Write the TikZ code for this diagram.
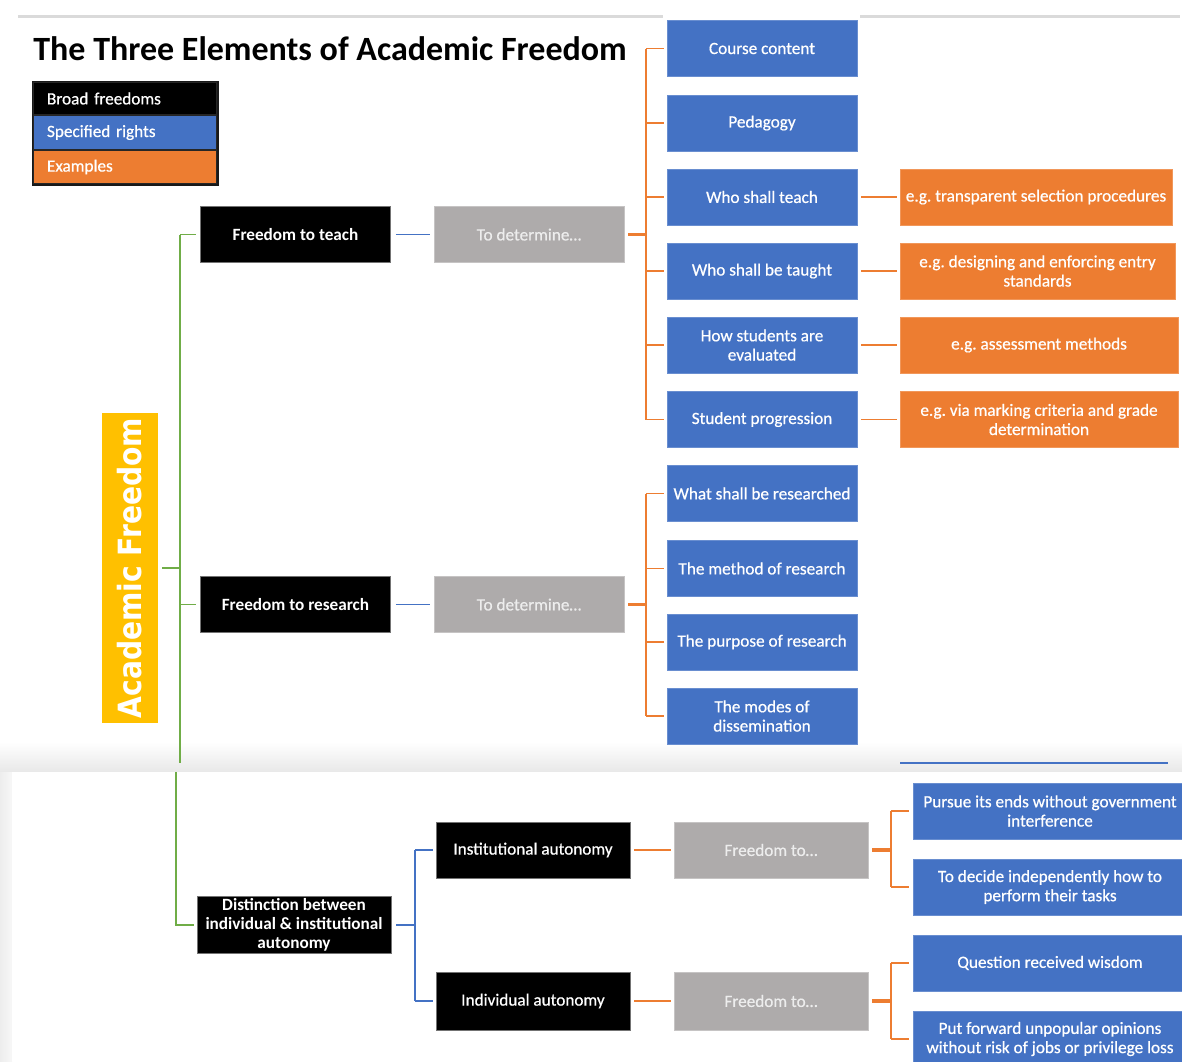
\documentclass[tikz,border=0pt]{standalone}
\usepackage{fontspec}
\setmainfont{Carlito}
\newfontfamily\semibody{Carlito}[FakeBold=0.6]
\newfontfamily\widebold{DejaVu Sans}
\definecolor{afblack}{HTML}{000000}
\definecolor{afblue}{HTML}{4472C4}
\definecolor{aforange}{HTML}{ED7D31}
\definecolor{afgrey}{HTML}{AEABAB}
\definecolor{afyellow}{HTML}{FFC000}
\definecolor{afgreen}{HTML}{70AD47}
\definecolor{rulegrey}{HTML}{DADADA}
\begin{document}
\frenchspacing
\begin{tikzpicture}[x=0.5pt,y=-0.5pt,
  txt/.style={font=\semibody\fontsize{8.6pt}{9.6pt}\selectfont},
  base/.style={rectangle, inner sep=0pt, align=center, text=white, txt},
  broad/.style={base, fill=afblack, draw=black!55, line width=0.3pt,
                minimum width=95pt, minimum height=28pt,
                font=\normalfont\fontsize{8.6pt}{9.6pt}\selectfont\bfseries},
  auto/.style={base, fill=afblack, draw=black!55, line width=0.3pt,
                minimum width=97pt, minimum height=28pt},
  detbox/.style={base, fill=afgrey, draw=afgrey!70!white, line width=0.3pt,
                 text=white!93!black, minimum width=95pt, minimum height=28pt},
  right/.style={base, fill=afblue, draw=afblue!80!white, line width=0.3pt,
                minimum width=95pt, minimum height=28pt},
  wideright/.style={right, minimum width=137pt},
  example/.style={base, fill=aforange, draw=aforange!80!white, line width=0.3pt,
                  minimum height=28pt},
  legbox/.style={rectangle, inner ysep=0pt, inner xsep=7pt, text width=78pt,
                 align=left, text=white, draw=black!85, line width=0.6pt, txt},
  gline/.style={draw=afgreen, line width=0.9pt},
  bline/.style={draw=afblue, line width=0.9pt},
  oline/.style={draw=aforange, line width=0.9pt},
  ostem/.style={draw=aforange, line width=1.6pt},
]
\useasboundingbox (0,0) rectangle (1182,1061);
\clip (0,0) rectangle (1182,1061);

% ---------- backgrounds ----------
\fill[white] (0,0) rectangle (1182,1061);
\shade[top color=white, bottom color=black!9] (0,742) rectangle (1182,772);
\shade[left color=black!7, right color=black!3] (0,772) rectangle (12,1061);
\fill[white] (12,772) rectangle (1182,1061);
\draw[rulegrey, line width=1.5pt] (18,16.5) -- (663,16.5);
\draw[rulegrey, line width=1.5pt] (860,16.5) -- (1180,16.5);
\draw[afblue, line width=1pt] (900,763) -- (1168,763);

% ---------- title and legend ----------
\node[anchor=base west, inner sep=0pt,
      font=\fontsize{17pt}{20pt}\selectfont\bfseries] (title) at (33,60)
      {The Three Elements of Academic Freedom};
\node[legbox, fill=afblack, minimum height=16.5pt] (lg1) at (125,98.5) {Broad freedoms};
\node[legbox, fill=afblue, minimum height=17.5pt] (lg2) at (125,132.5) {Specified rights};
\node[legbox, fill=aforange, minimum height=17pt] (lg3) at (125,167) {Examples};
\draw[black!90, line width=0.9pt] (lg1.north west) rectangle (lg3.south east);

% ---------- root ----------
\node[rectangle, fill=afyellow, rotate=90, inner sep=0pt,
      minimum width=155pt, minimum height=28pt, text=white,
      font=\widebold\bfseries\fontsize{16pt}{18pt}\selectfont] (af) at (130,568)
      {\scalebox{0.88}[1]{Academic Freedom}};

% ---------- freedom to teach ----------
\node[broad] (ft) at (295.5,234.5) {Freedom to teach};
\node[detbox] (td) at (529,234.5) {To determine…};
\node[right] (c1) at (762,48.5) {Course content};
\node[right] (c2) at (762,123) {Pedagogy};
\node[right] (c3) at (762,197) {Who shall teach};
\node[right] (c4) at (762,271) {Who shall be taught};
\node[right] (c5) at (762,345) {How students are\\evaluated};
\node[right] (c6) at (762,419.5) {Student progression};
\node[example, minimum width=136pt] (e3) at (1036,197) {e.g. transparent selection procedures};
\node[example, minimum width=137.5pt] (e4) at (1037.5,271) {e.g. designing and enforcing entry\\standards};
\node[example, minimum width=139pt] (e5) at (1039,345) {e.g. assessment methods};
\node[example, minimum width=139pt] (e6) at (1039,419.5) {e.g. via marking criteria and grade\\determination};

% ---------- freedom to research ----------
\node[broad] (fr) at (295.5,604.5) {Freedom to research};
\node[detbox] (tr) at (529,604.5) {To determine…};
\node[right] (r1) at (762,493.5) {What shall be researched};
\node[right] (r2) at (762,568.5) {The method of research};
\node[right] (r3) at (762,642) {The purpose of research};
\node[right] (r4) at (762,716) {The modes of\\dissemination};

% ---------- autonomy ----------
\node[broad, minimum width=97pt, minimum height=28.5pt] (dist) at (294,925)
      {Distinction between\\individual \& institutional\\autonomy};
\node[auto] (ia) at (533,850) {Institutional autonomy};
\node[auto, minimum height=29pt] (ind) at (533,1001) {Individual autonomy};
\node[detbox, minimum width=97pt] (fa) at (771,850) {Freedom to…};
\node[detbox, minimum width=97pt, minimum height=29pt] (fb) at (771,1001) {Freedom to…};
\node[wideright] (p1) at (1050,811) {Pursue its ends without government\\interference};
\node[wideright] (p2) at (1050,887) {To decide independently how to\\perform their tasks};
\node[wideright] (p3) at (1050,963) {Question received wisdom};
\node[wideright] (p4) at (1050,1039) {Put forward unpopular opinions\\without risk of jobs or privilege loss};

% ---------- green trunk ----------
\coordinate (gt) at (180,568);
\coordinate (gend) at (180,763);
\draw[gline] (gt |- ft) -- (gend);
\draw[gline] ([xshift=2pt]af.south) -- (gt);
\draw[gline, shorten >=2pt] (gt |- ft) -- (ft.west);
\draw[gline, shorten >=2pt] (gt |- fr) -- (fr.west);
\coordinate (gt2) at (176,772);
\draw[gline, shorten >=1.5pt] (gt2) |- (dist.west);

% ---------- blue links ----------
\draw[bline, shorten <=2.5pt, shorten >=2pt] (ft) -- (td);
\draw[bline, shorten <=2.5pt, shorten >=2pt] (fr) -- (tr);
\coordinate (bj) at (415,925);
\draw[bline, shorten <=2.5pt] (dist.east) -- (bj);
\draw[bline] (bj |- ia) -- (bj |- ind);
\draw[bline, shorten >=1.5pt] (bj |- ia) -- (ia.west);
\draw[bline, shorten >=1.5pt] (bj |- ind) -- (ind.west);

% ---------- orange brackets ----------
\coordinate (tj) at (646,234.5);
\draw[ostem, shorten <=2pt] (td.east) -- (tj);
\draw[oline] (tj |- c1) -- (tj |- c6);
\foreach \n in {c1,c2,c3,c4,c5,c6}
  \draw[oline, shorten >=1.5pt] (tj |- \n) -- (\n.west);
\foreach \a/\b in {c3/e3,c4/e4,c5/e5,c6/e6}
  \draw[oline, shorten <=2pt, shorten >=1.5pt] (\a) -- (\b);

\coordinate (rj) at (646,604.5);
\draw[ostem, shorten <=2pt] (tr.east) -- (rj);
\draw[oline] (rj |- r1) -- (rj |- r4);
\foreach \n in {r1,r2,r3,r4}
  \draw[oline, shorten >=1.5pt] (rj |- \n) -- (\n.west);

\draw[oline, shorten <=2pt, shorten >=1.5pt] (ia) -- (fa);
\draw[oline, shorten <=2pt, shorten >=1.5pt] (ind) -- (fb);
\coordinate (aj) at (891,850);
\draw[ostem, shorten <=2pt] (fa.east) -- (aj);
\draw[oline] (aj |- p1) -- (aj |- p2);
\draw[oline, shorten >=2pt] (aj |- p1) -- (p1.west);
\draw[oline, shorten >=2pt] (aj |- p2) -- (p2.west);
\coordinate (bj2) at (891,1001);
\draw[ostem, shorten <=2pt] (fb.east) -- (bj2);
\draw[oline] (bj2 |- p3) -- (bj2 |- p4);
\draw[oline, shorten >=2pt] (bj2 |- p3) -- (p3.west);
\draw[oline, shorten >=2pt] (bj2 |- p4) -- (p4.west);
\end{tikzpicture}
\end{document}
